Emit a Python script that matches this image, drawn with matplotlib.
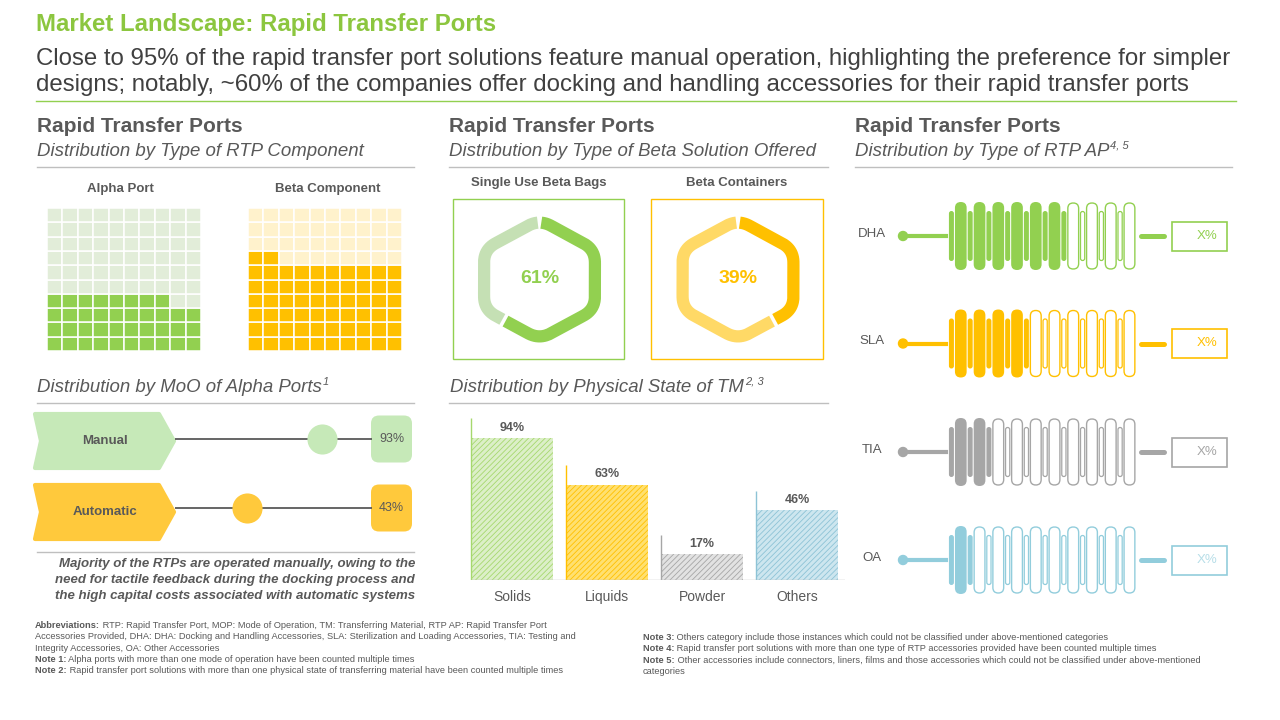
import numpy as np
import matplotlib
matplotlib.use('Agg')
import matplotlib.pyplot as plt
from matplotlib.patches import Rectangle, FancyBboxPatch, Polygon, Circle

plt.rcParams['font.family'] = ['Liberation Sans', 'DejaVu Sans']
plt.rcParams['hatch.linewidth'] = 0.6

# ---------------------------------------------------------------- data
component_labels = ['Alpha Port', 'Beta Component']
component_share = [38, 62]

beta_labels = ['Single Use Beta Bags', 'Beta Containers']
beta_share = [61, 39]

moo_labels = ['Manual', 'Automatic']
moo_share = [93, 43]

state_labels = ['Solids', 'Liquids', 'Powder', 'Others']
state_share = [94, 63, 17, 46]

ap_labels = ['DHA', 'SLA', 'TIA', 'OA']
ap_filled = [6, 4, 2, 1]          # filled segments out of 10
ap_value_text = ['X%', 'X%', 'X%', 'X%']

# ---------------------------------------------------------------- colours
GREEN, GREEN_L, GREEN_BG = '#92D050', '#C5E0B4', '#E2EDD9'
YELLOW, YELLOW_L, YELLOW_BG = '#FFC000', '#FFD966', '#FFF2CC'
TXT = '#595959'
RULE = '#BFBFBF'

fig = plt.figure(figsize=(12.8, 7.2), dpi=100)
ax = fig.add_axes([0, 0, 1, 1])
ax.set_xlim(0, 1280)
ax.set_ylim(720, 0)
ax.axis('off')
renderer = fig.canvas.get_renderer()


def sub_axes(x0, y0, x1, y1):
    a = fig.add_axes([x0 / 1280, 1 - y1 / 720, (x1 - x0) / 1280, (y1 - y0) / 720])
    a.patch.set_alpha(0)
    return a


def text_sup(x, y, main, sup, size=13, **kw):
    t = ax.text(x, y, main, fontsize=size, va='center', color=TXT, **kw)
    x1 = t.get_window_extent(renderer).x1
    ax.text(x1 + 1, y - 6, sup, fontsize=size * 0.6, va='center', color=TXT, **kw)


def rich(x, y, bold, rest, size=6.7):
    if bold:
        t = ax.text(x, y, bold, fontsize=size, fontweight='bold', color=TXT, va='center')
        x = t.get_window_extent(renderer).x1
    ax.text(x, y, rest, fontsize=size, color=TXT, va='center')


# ---------------------------------------------------------------- header
ax.text(36, 24, 'Market Landscape: Rapid Transfer Ports', color='#8CC63F',
        fontsize=17.3, fontweight='bold', va='center')
ax.text(36, 59, 'Close to 95% of the rapid transfer port solutions feature manual operation, '
        'highlighting the preference for simpler', fontsize=17.3, color='#404040', va='center')
ax.text(36, 85, 'designs; notably, ~60% of the companies offer docking and handling accessories '
        'for their rapid transfer ports', fontsize=17.3, color='#404040', va='center')
ax.plot([36, 1236], [101, 101], color=GREEN, lw=1)

panels = [(37, 414, 'Distribution by Type of RTP Component', None),
          (449, 828, 'Distribution by Type of Beta Solution Offered', None),
          (855, 1232, 'Distribution by Type of RTP AP', '4, 5')]
for x0, x1, sub, sup in panels:
    ax.text(x0, 127, 'Rapid Transfer Ports', fontsize=15, fontweight='bold', color=TXT, va='center')
    if sup:
        text_sup(x0, 151, sub, sup, size=13.4, style='italic')
    else:
        ax.text(x0, 151, sub, fontsize=13.4, style='italic', color=TXT, va='center')
    ax.plot([x0, x1], [167, 167], color=RULE, lw=1)

# ---------------------------------------------------------------- waffles
waffle_x = [(47, 201), (248, 402)]
waffle_cols = [(GREEN, GREEN_BG), (YELLOW, YELLOW_BG)]
title_x = [120, 328]
pct_x = [130, 335]
for (x0, x1), (fc, bg), lab, val, tx, px in zip(waffle_x, waffle_cols, component_labels,
                                                component_share, title_x, pct_x):
    ax.text(tx, 189, lab, fontsize=9.5, fontweight='bold', color=TXT,
            ha='center', va='center')
    wa = sub_axes(x0, 208, x1, 351)
    wa.set_xlim(0, 10)
    wa.set_ylim(0, 10)
    wa.axis('off')
    for k in range(100):
        r, c = divmod(k, 10)
        wa.add_patch(Rectangle((c, r), 1, 1, fc=fc if k < val else bg,
                               ec='white', lw=1.1, clip_on=False))
    ax.text(px, 267, f'{val}%', fontsize=14, fontweight='bold', color=TXT,
            ha='center', va='center', zorder=10)


# ---------------------------------------------------------------- hexagon rings
def rounded_hex(cx, cy, rx, ry, d=13, k=13):
    ang = np.radians(-90 + 60 * np.arange(6))
    V = np.column_stack([cx + rx * np.cos(ang), cy + ry * np.sin(ang)])
    t = np.linspace(0, 1, k)[:, None]
    pts = []
    for i in range(6):
        P, Q, N = V[i - 1], V[i], V[(i + 1) % 6]
        A = Q + (P - Q) / np.hypot(*(P - Q)) * d
        B = Q + (N - Q) / np.hypot(*(N - Q)) * d
        pts.append((1 - t) ** 2 * A + 2 * (1 - t) * t * Q + t ** 2 * B)
    pts = np.vstack(pts + [pts[0][:1]])
    cum = np.concatenate([[0], np.cumsum(np.hypot(*np.diff(pts, axis=0).T))])
    return pts, cum, cum[k // 2]


def hex_arc(loop, f0, f1, n=400):
    pts, cum, off = loop
    s = (off + np.linspace(f0, f1, n) * cum[-1]) % cum[-1]
    return np.interp(s, cum, pts[:, 0]), np.interp(s, cum, pts[:, 1])


boxes = [(453, 624), (651, 823)]
hex_cols = [(GREEN, GREEN_L), (YELLOW, YELLOW_L)]
for (x0, x1), (dark, light), lab, val in zip(boxes, hex_cols, beta_labels, beta_share):
    cx, cy = (x0 + x1) / 2 + 1, 279.5
    ax.add_patch(Rectangle((x0, 199), x1 - x0, 160, fc='none', ec=dark, lw=1))
    ax.text((x0 + x1) / 2, 183, lab, fontsize=9.5, fontweight='bold', color=TXT,
            ha='center', va='center')
    loop = rounded_hex(cx, cy, 64, 60)
    f = val / 100
    gap = 0.005
    hx, hy = hex_arc(loop, gap, f - gap)
    ax.plot(hx, hy, color=dark, lw=8.8, solid_joinstyle='round', solid_capstyle='butt')
    hx, hy = hex_arc(loop, f + gap, 1 - gap)
    ax.plot(hx, hy, color=light, lw=8.8, solid_joinstyle='round', solid_capstyle='butt')
    ax.text(cx, cy - 1, f'{val}%', fontsize=14, fontweight='bold', color=dark,
            ha='center', va='center')

# ---------------------------------------------------------------- mode of operation
text_sup(37, 388, 'Distribution by MoO of Alpha Ports', '1', size=13.4, style='italic')
ax.plot([37, 414], [403, 403], color=RULE, lw=1)

moo_cols = ['#C6E9B8', '#FFC93C']
shape_y = [441, 512]
row_y = [439, 508]
da = sub_axes(175, 405, 372, 545)
da.set_xlim(-5, 126.33)
da.set_ylim(545, 405)
da.axis('off')
for lab, val, c, sy, ry in zip(moo_labels, moo_share, moo_cols, shape_y, row_y):
    x0, x1, h = 35, 174, 54
    pts = [(x0, sy - h / 2), (x1 - 15, sy - h / 2), (x1, sy), (x1 - 15, sy + h / 2),
           (x0, sy + h / 2), (x0 + 6, sy)]
    ax.add_patch(Polygon(pts, closed=True, fc=c, ec=c, lw=3, joinstyle='round'))
    ax.text(105, sy, lab, fontsize=9.5, fontweight='bold', color=TXT, ha='center', va='center')
    da.hlines(ry, -5, 126.33, color=TXT, lw=1.3, zorder=1)
    da.scatter([val], [ry], s=470, color=c, zorder=3, linewidths=0)
    ax.add_patch(FancyBboxPatch((371, ry - 23.5), 41, 47,
                                boxstyle='round,pad=0,rounding_size=8', fc=c, ec='none'))
    ax.text(391.5, ry, f'{val}%', fontsize=9, color=TXT, ha='center', va='center')

ax.plot([37, 414], [552, 552], color=RULE, lw=1)
comment = ['Majority of the RTPs are operated manually, owing to the',
           'need for tactile feedback during the docking process and',
           'the high capital costs associated with automatic systems']
for i, line in enumerate(comment):
    ax.text(415, 564 + 16 * i, line, fontsize=9.5, fontweight='bold', style='italic',
            color=TXT, ha='right', va='center')

# ---------------------------------------------------------------- physical state bars
text_sup(450, 388, 'Distribution by Physical State of TM', '2, 3', size=13.4, style='italic')
ax.plot([449, 828], [403, 403], color=RULE, lw=1)

bar_face = ['#DCEFC8', '#FFE070', '#E2E2E2', '#CDE6EF']
bar_hatch = ['#A6D86E', '#FFC000', '#A6A6A6', '#8DC3D6']
bar_w = 0.863
ba = sub_axes(466, 400, 845, 580)
ba.set_xlim(-0.484, 3.505)
ba.set_ylim(0, 118.9)
xs = np.arange(len(state_share))
bars = ba.bar(xs, state_share, width=bar_w, color=bar_face, edgecolor=bar_hatch,
              hatch='//////', lw=0)
ba.bar_label(bars, labels=[f'{v}%' for v in state_share], padding=3, fontsize=9,
             fontweight='bold', color=TXT)
ba.vlines(xs - bar_w / 2, 0, np.array(state_share) + 13, colors=bar_hatch, lw=1)
ba.hlines(0, -bar_w / 2, 3.5, color=RULE, lw=1)
ba.set_xticks(xs, state_labels)
ba.set_yticks([])
ba.tick_params(length=0, labelsize=10, colors=TXT, pad=7)
for sp in ba.spines.values():
    sp.set_visible(False)

# ---------------------------------------------------------------- accessories springs
ap_rows = [236, 343.5, 452, 560]
ap_cols = [GREEN, YELLOW, '#A6A6A6', '#92CDDC']
ap_txt = [GREEN, YELLOW, '#A6A6A6', '#B7DEE8']
big_x = 960.8 + 18.74 * np.arange(10)
for lab, n, y, c, tc, vt in zip(ap_labels, ap_filled, ap_rows, ap_cols, ap_txt, ap_value_text):
    ax.text(872, y - 2, lab, fontsize=9.5, color=TXT, ha='center', va='center')
    ax.plot([902, 946], [y, y], color=c, lw=3)
    ax.add_patch(Circle((903, y), 4.5, color=c))
    for j, bx in enumerate(big_x):
        sx = bx - 9.37
        if j <= n:
            w, h = 5, 50
            ax.add_patch(FancyBboxPatch((sx - w / 2, y - h / 2), w, h,
                                        boxstyle=f'round,pad=0,rounding_size={w / 2}',
                                        fc=c, ec='none'))
        else:
            w, h = 4.2, 49
            ax.add_patch(FancyBboxPatch((sx - w / 2, y - h / 2), w, h,
                                        boxstyle=f'round,pad=0,rounding_size={w / 2}',
                                        fc='white', ec=c, lw=0.9))
        if j < n:
            w, h = 11.7, 68
            ax.add_patch(FancyBboxPatch((bx - w / 2, y - h / 2), w, h,
                                        boxstyle=f'round,pad=0,rounding_size={w / 2}',
                                        fc=c, ec='none'))
        else:
            w, h = 10.8, 66
            ax.add_patch(FancyBboxPatch((bx - w / 2, y - h / 2), w, h,
                                        boxstyle=f'round,pad=0,rounding_size={w / 2}',
                                        fc='white', ec=c, lw=1))
    ax.plot([1141, 1164], [y, y], color=c, lw=3.6, solid_capstyle='round')
    ax.add_patch(Rectangle((1172, y - 14.5), 55, 29, fc='white', ec=c, lw=1.2))
    ax.text(1207, y, vt, fontsize=9.5, color=tc, ha='center', va='center')

# ---------------------------------------------------------------- footnotes
left_notes = [('Abbreviations:', ' RTP: Rapid Transfer Port, MOP: Mode of Operation, TM: Transferring '
               'Material, RTP AP: Rapid Transfer Port'),
              (None, 'Accessories Provided, DHA: DHA: Docking and Handling Accessories, SLA: Sterilization '
               'and Loading Accessories, TIA: Testing and'),
              (None, 'Integrity Accessories, OA: Other Accessories'),
              ('Note 1:', ' Alpha ports with more than one mode of operation have been counted multiple times'),
              ('Note 2:', ' Rapid transfer port solutions with more than one physical state of transferring '
               'material have been counted multiple times')]
for i, (b, r) in enumerate(left_notes):
    rich(35, 625.5 + 11.3 * i, b, r)

right_notes = [('Note 3:', ' Others category include those instances which could not be classified '
                'under above-mentioned categories'),
               ('Note 4:', ' Rapid transfer port solutions with more than one type of RTP accessories '
                'provided have been counted multiple times'),
               ('Note 5:', ' Other accessories include connectors, liners, films and those accessories '
                'which could not be classified under above-mentioned'),
               (None, 'categories')]
for i, (b, r) in enumerate(right_notes):
    rich(643, 637.5 + 11.4 * i, b, r)

fig.savefig('out.png', dpi=100)
